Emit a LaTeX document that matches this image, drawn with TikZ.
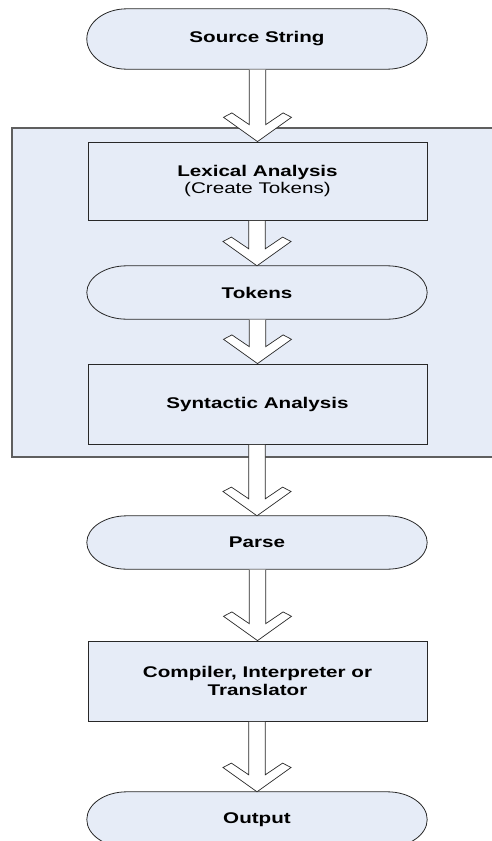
\documentclass[tikz,border=0pt]{standalone}
\usepackage{fontspec}
\setmainfont{Liberation Sans}[FakeStretch=1.33]
\usetikzlibrary{calc}
\pgfdeclarelayer{back}
\pgfsetlayers{back,main}
\definecolor{boxfill}{RGB}{230,236,247}
\definecolor{edgecol}{RGB}{40,40,40}
\definecolor{groupedge}{RGB}{95,95,95}
\tikzset{
  labelfont/.style={font=\fontsize{15.5}{17.5}\selectfont},
  termbox/.style={minimum width=340pt, minimum height=#1, inner sep=0pt, labelfont},
  stadiumline/.style={draw=edgecol, fill=boxfill, line width=0.8pt},
  procbox/.style={draw=edgecol, fill=boxfill, line width=0.8pt,
    minimum width=339pt, minimum height=#1, inner sep=0pt, align=center, labelfont},
  blockarrow/.style={draw=edgecol, fill=white, line width=0.7pt, line join=miter},
  groupbox/.style={draw=groupedge, fill=boxfill, line width=1.3pt}
}
\newcommand\stadiumoutline[1]{%
  \path[stadiumline] let \p1=(#1.north west), \p2=(#1.south east),
    \n1={(\y1-\y2)/2} in
    ({\x1+40pt},\y1) -- ({\x2-40pt},\y1)
    arc[start angle=90, end angle=-90, x radius=40pt, y radius=\n1]
    -- ({\x1+40pt},\y2)
    arc[start angle=270, end angle=90, x radius=40pt, y radius=\n1] -- cycle;}
\newcommand\flowarrow[2]{%
  \path[blockarrow] let \p1=(#1.south), \p2=(#2.north) in
    ({\x2-8.3pt},{\y1-0.4pt}) -- ({\x2-8.3pt},{\y2+17pt})
    -- ({\x2-25.6pt},{\y2+28.7pt}) -- ({\x2-34pt},{\y2+24.3pt})
    -- (\x2,\y2)
    -- ({\x2+34pt},{\y2+24.3pt}) -- ({\x2+25.6pt},{\y2+28.7pt})
    -- ({\x2+8.3pt},{\y2+17pt}) -- ({\x2+8.3pt},{\y1-0.4pt});}
\begin{document}
\begin{tikzpicture}[x=1pt,y=-1pt]
  \clip (0,0) rectangle (492,841);
  \useasboundingbox (0,0) rectangle (492,841);
  \begin{pgfonlayer}{back}
    \path[groupbox] (12,128) rectangle (510,457);
  \end{pgfonlayer}
  \node[termbox=60pt] (src) at (257,39) {\textbf{Source String}};
  \node[procbox=78pt] (lex) at (257.5,181) {\textbf{Lexical Analysis}\\(Create Tokens)};
  \node[termbox=53pt] (tok) at (257,292.5) {\textbf{Tokens}};
  \node[procbox=80pt] (syn) at (257.5,404) {\textbf{Syntactic Analysis}};
  \node[termbox=53pt] (parse) at (257,542.5) {\textbf{Parse}};
  \node[procbox=80pt] (comp) at (257.5,681) {\textbf{Compiler, Interpreter or}\\\textbf{Translator}};
  \node[termbox=55pt] (out) at (257,819.5) {\textbf{Output}};
  \begin{pgfonlayer}{back}
    \stadiumoutline{src}
    \stadiumoutline{tok}
    \stadiumoutline{parse}
    \stadiumoutline{out}
  \end{pgfonlayer}
  \flowarrow{src}{lex}
  \flowarrow{lex}{tok}
  \flowarrow{tok}{syn}
  \flowarrow{syn}{parse}
  \flowarrow{parse}{comp}
  \flowarrow{comp}{out}
\end{tikzpicture}
\end{document}
